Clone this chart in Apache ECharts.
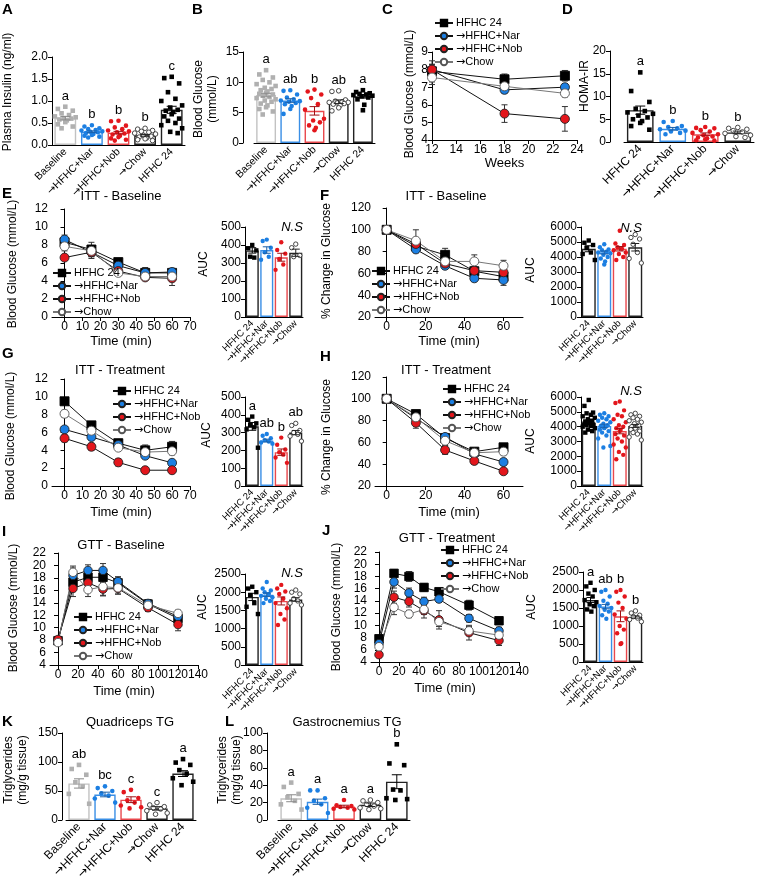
<!DOCTYPE html>
<html>
<head>
<meta charset="utf-8">
<script src="https://cdn.jsdelivr.net/npm/echarts@6/dist/echarts.min.js"></script>
<style>
  html, body { margin: 0; padding: 0; background: #fff; }
  #main { width: 766px; height: 876px; }
</style>
</head>
<body>
<div id="main"></div>
<script>
// ---------- data ----------
var names = ['HFHC 24', '→HFHC+Nar', '→HFHC+Nob', '→Chow'];
var cats5 = ['Baseline', '→HFHC+Nar', '→HFHC+Nob', '→Chow', 'HFHC 24'];
var cats4 = ['HFHC 24', '→HFHC+Nar', '→HFHC+Nob', '→Chow'];

// A plasma insulin
var aMeans = [0.61, 0.30, 0.28, 0.22, 0.80];
var aSems = [0.04, 0.02, 0.03, 0.02, 0.08];
var aLetters = ['a', 'b', 'b', 'b', 'c'];
var aDots = [
  [0.87, 0.82, 0.78, 0.72, 0.68, 0.65, 0.63, 0.61, 0.6, 0.58, 0.56, 0.52, 0.47, 0.42, 0.38],
  [0.45, 0.42, 0.38, 0.36, 0.34, 0.33, 0.31, 0.3, 0.29, 0.27, 0.25, 0.23, 0.21, 0.19, 0.17],
  [0.55, 0.54, 0.44, 0.4, 0.36, 0.33, 0.31, 0.29, 0.26, 0.24, 0.21, 0.18, 0.15, 0.12, 0.1],
  [0.38, 0.36, 0.33, 0.31, 0.29, 0.27, 0.25, 0.22, 0.2, 0.18, 0.16, 0.14, 0.12, 0.1],
  [1.55, 1.52, 1.4, 1.2, 1.05, 1.0, 0.9, 0.85, 0.8, 0.78, 0.75, 0.7, 0.65, 0.6, 0.55, 0.5, 0.45, 0.38, 0.3, 0.27]
];

// B blood glucose
var bMeans = [7.9, 7.0, 5.3, 6.8, 7.7];
var bSems = [0.3, 0.3, 0.7, 0.3, 0.3];
var bLetters = ['a', 'ab', 'b', 'ab', 'a'];
var bDots = [
  [12.0, 11.3, 10.8, 10.4, 10.0, 9.7, 9.4, 9.1, 8.9, 8.7, 8.5, 8.3, 8.1, 8.0, 7.8, 7.6, 7.4, 7.2, 7.0, 6.8, 6.5, 6.2, 5.9, 5.6, 5.2, 4.7],
  [8.7, 8.6, 8.0, 7.5, 7.2, 7.0, 6.9, 6.8, 6.6, 6.4, 6.1, 5.6, 4.8],
  [8.8, 8.5, 8.0, 7.4, 6.4, 5.5, 4.0, 3.7, 3.4, 2.9, 2.5, 2.1],
  [8.6, 8.5, 7.1, 6.9, 6.8, 6.7, 6.7, 6.6, 6.5, 6.4, 6.2, 5.8, 5.3],
  [8.7, 8.4, 8.2, 8.1, 8.0, 7.9, 7.8, 7.7, 7.5, 7.2, 6.3, 5.4]
];

// C blood glucose over weeks
var cWeeks = [12, 18, 23];
var cMeans = [[7.9, 7.45, 7.65], [8.0, 6.85, 7.0], [8.0, 5.5, 5.2], [7.55, 7.05, 6.65]];
var cSems = [[0.6, 0.3, 0.3], [0.3, 0.2, 0.2], [0.3, 0.5, 0.7], [0.4, 0.2, 0.2]];

// D HOMA-IR
var dMeans = [7.0, 2.9, 1.7, 2.1];
var dSems = [0.9, 0.3, 0.3, 0.3];
var dLetters = ['a', 'b', 'b', 'b'];
var dDots = [
  [15.3, 11.2, 8.8, 7.3, 6.8, 6.5, 6.2, 5.8, 5.4, 5.0, 4.6, 4.2, 3.5, 2.7],
  [4.6, 4.4, 3.5, 3.3, 3.0, 2.8, 2.5, 2.3, 2.0, 1.7],
  [3.3, 3.1, 3.0, 2.6, 2.3, 2.0, 1.7, 1.5, 1.2, 1.0, 0.8, 0.6, 0.4, 0.3],
  [3.2, 3.0, 2.8, 2.5, 2.2, 1.9, 1.5, 1.2, 1.0]
];

// ITT / GTT time courses
var ittTimes = [0, 15, 30, 45, 60];
var gttTimes = [0, 15, 30, 45, 60, 90, 120];

var eMeans = [[8.3, 7.5, 6.1, 4.9, 4.9], [8.6, 7.2, 5.7, 4.9, 5.0], [6.6, 7.2, 5.1, 4.4, 4.3], [7.85, 7.35, 4.9, 4.5, 4.5]];
var eSems = [[0.4, 0.8, 0.3, 0.6, 0.5], [0.5, 0.5, 0.3, 0.4, 0.4], [0.3, 0.7, 0.4, 0.3, 0.8], [0.5, 0.6, 0.3, 0.3, 0.5]];
var eAuc = [370, 372, 332, 357];
var eAucSem = [15, 18, 22, 20];
var eAucDots = [[400, 382, 370, 335, 330], [430, 422, 385, 360, 335, 318], [415, 372, 352, 322, 292, 262], [405, 385, 342, 335]];

var fMeans = [[100, 85, 77, 62, 57], [100, 82, 67, 55.5, 54], [100, 87, 69, 62.5, 61], [100, 90, 71, 71, 67]];
var fSems = [[0, 5, 6, 4, 4], [0, 3, 3, 3, 5], [0, 3, 3, 3, 3], [0, 10, 4, 6, 5]];
var fAuc = [4550, 4300, 4550, 4650];
var fAucSem = [200, 100, 150, 250];
var fAucDots = [
  [5100, 4950, 4800, 4600, 4300, 4200, 3800],
  [4850, 4650, 4500, 4450, 4350, 4300, 4250, 4150, 4000, 3900, 3700, 3500],
  [5750, 4900, 4800, 4650, 4550, 4450, 4300, 4200, 4000, 3800],
  [5500, 5300, 5200, 4850, 4300, 3900, 3600]
];

var gMeans = [[9.5, 6.8, 4.8, 4.0, 4.4], [6.35, 5.5, 4.6, 3.4, 2.6], [5.35, 4.4, 2.65, 1.77, 1.77], [8.1, 6.2, 4.3, 3.8, 3.9]];
var gSems = [[0.3, 0.3, 0.4, 0.6, 0.6], [0.3, 0.3, 0.3, 0.3, 0.3], [0.4, 0.4, 0.4, 0.2, 0.2], [0.4, 0.4, 0.3, 0.4, 0.4]];
var gAuc = [335, 255, 190, 300];
var gAucSem = [22, 8, 18, 12];
var gLetters = ['a', 'ab', 'b', 'ab'];
var gAucDots = [[390, 372, 352, 342, 330, 318, 215], [292, 282, 268, 258, 250, 244, 238], [272, 232, 205, 190, 176, 160, 130], [352, 340, 312, 300, 290, 280, 252]];

var hMeans = [[100, 86, 64, 51.5, 55.5], [100, 82, 65, 49.5, 42], [100, 78, 53, 43, 33.5], [100, 83, 61.5, 50.5, 51.5]];
var hSems = [[0, 3, 3, 2, 3], [0, 3, 3, 3, 3], [0, 5, 4, 3, 2], [0, 3, 4, 3, 3]];
var hAuc = [4250, 4050, 3700, 4050];
var hAucSem = [120, 120, 180, 100];
var hAucDots = [
  [5800, 5400, 4950, 4900, 4800, 4700, 4600, 4500, 4400, 4350, 4300, 4250, 4200, 4150, 4100, 4050, 4000, 3900, 3800, 3700, 3600],
  [4900, 4800, 4700, 4600, 4500, 4400, 4300, 4200, 4100, 4050, 4000, 3900, 3800, 3700, 3600, 3400, 3200, 2700, 2600],
  [5700, 5600, 5100, 4800, 4700, 4500, 4300, 4100, 4000, 3900, 3800, 3700, 3500, 3400, 3200, 3000, 2800, 2600, 2300, 2100, 1800],
  [4900, 4800, 4700, 4600, 4500, 4400, 4300, 4200, 4100, 4000, 3950, 3900, 3800, 3700, 3600, 3500, 3300, 3100]
];

var iMeans = [[7.9, 17.3, 18.1, 18.1, 17.2, 13.8, 11.5], [7.8, 18.4, 19.2, 19.2, 17.4, 13.9, 11.8], [8.1, 16.3, 17.2, 16.2, 16.3, 13.2, 10.5], [7.6, 18.9, 16.1, 16.6, 16.4, 13.6, 12.3]];
var iSems = [[0.3, 1.0, 0.8, 0.9, 0.8, 0.6, 0.5], [0.3, 1.2, 0.9, 1.1, 0.8, 0.6, 0.5], [0.4, 1.3, 1.3, 1.0, 0.9, 0.6, 1.0], [0.3, 1.0, 1.1, 1.5, 1.0, 0.7, 0.5]];
var iAuc = [1870, 1930, 1760, 1800];
var iAucSem = [100, 50, 110, 50];
var iAucDots = [
  [2150, 2100, 2000, 1920, 1700, 1600, 1400],
  [2280, 2100, 2050, 2000, 1950, 1900, 1860, 1820, 1760, 1700],
  [2200, 2100, 2020, 1950, 1820, 1700, 1560, 1400, 1250, 1100],
  [2060, 2000, 1950, 1820, 1760, 1700, 1650]
];

var jMeans = [[7.8, 18.5, 18.0, 16.2, 15.5, 13.3, 10.75], [7.0, 17.1, 15.3, 13.9, 14.3, 11.15, 9.1], [5.2, 14.6, 13.9, 12.4, 10.9, 8.8, 7.5], [6.5, 12.95, 11.85, 12.6, 10.6, 9.1, 8.4]];
var jSems = [[0.5, 0.6, 0.8, 0.6, 0.5, 0.8, 0.5], [0.4, 1.0, 0.8, 0.7, 0.5, 0.6, 0.6], [0.4, 1.0, 0.9, 1.2, 1.5, 1.2, 0.8], [0.4, 1.2, 0.6, 0.8, 0.8, 0.7, 0.6]];
var jAuc = [1720, 1540, 1270, 1250];
var jAucSem = [70, 60, 150, 30];
var jLetters = ['a', 'ab', 'b', 'b'];
var jAucDots = [
  [2200, 2100, 2000, 1900, 1820, 1720, 1660, 1600, 1550, 1460, 1400],
  [2000, 1950, 1820, 1700, 1620, 1560, 1500, 1450, 1400, 1300, 1200],
  [2000, 1950, 1820, 1650, 1500, 1320, 1200, 1000, 900, 800, 520, 500],
  [1420, 1360, 1300, 1260, 1220, 1180, 1120]
];

// K quadriceps TG
var kMeans = [63, 44, 35, 20, 80];
var kSems = [8, 4, 5, 3, 5];
var kLetters = ['ab', 'bc', 'c', 'c', 'a'];
var kDots = [[95, 88, 78, 65, 58, 45, 28], [58, 55, 50, 46, 42, 37, 30], [52, 48, 38, 34, 30, 25, 22, 20], [30, 26, 23, 21, 19, 16, 12, 10], [105, 99, 95, 86, 80, 72, 66, 60]];

// L gastrocnemius TG
var lMeans = [25, 21, 15.5, 17.5, 44];
var lSems = [4, 3, 1.5, 2, 8];
var lLetters = ['a', 'a', 'a', 'a', 'b'];
var lDots = [[43, 38, 30, 26, 22, 18, 12], [34, 34, 25, 22, 18, 14, 8], [23, 17, 16, 15, 14, 13, 12], [23, 22, 20, 18, 16, 14, 13, 12], [87, 65, 63, 35, 34, 25, 24, 23]];

// ---------- styles ----------
var FONT = '"Liberation Sans", Arial, "DejaVu Sans", sans-serif';
var STY = {
  base: { dot: '#b0b0b0', bar: '#c2c2c2', err: '#8a8a8a', shape: 'square' },
  nar:  { dot: '#1c7fe2', bar: '#3a8fe6', err: '#1a5fa8', shape: 'circle' },
  nob:  { dot: '#e3161c', bar: '#e9484d', err: '#a01014', shape: 'circle' },
  chow: { dot: '#ffffff', bar: '#222222', err: '#222222', shape: 'hollow' },
  hfhc: { dot: '#000000', bar: '#222222', err: '#000000', shape: 'square' }
};
var g5 = ['base', 'nar', 'nob', 'chow', 'hfhc'];
var g4 = ['hfhc', 'nar', 'nob', 'chow'];
var LSTY = [
  { symbol: 'rect', fill: '#000', stroke: '#000', line: '#111' },
  { symbol: 'circle', fill: '#1c7fe2', stroke: '#222', line: '#111' },
  { symbol: 'circle', fill: '#e3161c', stroke: '#222', line: '#111' },
  { symbol: 'circle', fill: '#fff', stroke: '#555', line: '#777' }
];
var JIT = [0, -1, 1, -0.5, 0.5, -1.4, 1.4, -0.2, 0.8, -0.8, 0.2];

// arrow glyph drawn with DejaVu so it reads like the original
function arrowFmt(s) { return s.replace('→', '{ar|→}'); }
function arrowRich(size) { return { ar: { fontFamily: '"DejaVu Sans"', fontSize: size, color: '#000' } }; }

var grid = [], xAxis = [], yAxis = [], series = [], legend = [], graphic = [];

function txt(t, x, y, o) {
  graphic.push({ type: 'text', x: x, y: y, silent: true, style: Object.assign({
    text: t, fill: '#000', fontSize: 13, fontFamily: FONT,
    align: 'left', verticalAlign: 'top', textAlign: 'left', textVerticalAlign: 'top'
  }, o || {}) });
}
function ctr(t, x, y, o) {
  txt(t, x, y, Object.assign({ align: 'center', textAlign: 'center' }, o || {}));
}
// rotated y-axis title, centred at (x, y)
function yTitle(t, pos) {
  graphic.push({ type: 'text', x: pos[0], y: pos[1], rotation: Math.PI / 2, silent: true, style: {
    text: t, fill: '#000', fontSize: 12, fontFamily: FONT, lineHeight: 14,
    align: 'center', verticalAlign: 'middle', textAlign: 'center', textVerticalAlign: 'middle'
  } });
}

function axisY(g, o) {
  yTitle(o.yName, o.yPos);
  return {
    gridIndex: g, type: 'value', min: o.ymin || 0, max: o.ymax, interval: o.step, offset: o.off || 0,
    axisLine: { show: true, lineStyle: { color: '#000', width: 1 } },
    axisTick: { show: true, length: 4, lineStyle: { color: '#000' } },
    axisLabel: { fontSize: 12, color: '#000', margin: 4, fontFamily: FONT, showMinLabel: true, showMaxLabel: true,
      formatter: function (v) { return o.dec ? v.toFixed(o.dec) : String(v); } },
    splitLine: { show: false }
  };
}

function errShape(api, cap, color) {
  var x = api.value(0), m = api.value(1), s = api.value(2);
  var lo = api.coord([x, m - s]), hi = api.coord([x, m + s]);
  var st = { stroke: color, lineWidth: 1 };
  return { type: 'group', children: [
    { type: 'line', shape: { x1: lo[0], y1: lo[1], x2: hi[0], y2: hi[1] }, style: st },
    { type: 'line', shape: { x1: lo[0] - cap, y1: lo[1], x2: lo[0] + cap, y2: lo[1] }, style: st },
    { type: 'line', shape: { x1: hi[0] - cap, y1: hi[1], x2: hi[0] + cap, y2: hi[1] }, style: st }
  ] };
}

function dotShape(st, x, y, r) {
  if (st.shape === 'square') {
    return { type: 'rect', shape: { x: x - r, y: y - r, width: 2 * r, height: 2 * r }, style: { fill: st.dot } };
  }
  if (st.shape === 'hollow') {
    return { type: 'circle', shape: { cx: x, cy: y, r: r }, style: { fill: '#fff', stroke: '#333', lineWidth: 0.9 } };
  }
  return { type: 'circle', shape: { cx: x, cy: y, r: r }, style: { fill: st.dot } };
}

function barPanel(o) {
  var g = grid.length;
  grid.push({ left: o.box[0], top: o.box[1], width: o.box[2], height: o.box[3], outerBoundsMode: 'none' });
  xAxis.push({
    gridIndex: g, type: 'category', data: o.cats, axisTick: { show: false },
    axisLine: { lineStyle: { color: '#000', width: 1 } },
    axisLabel: { interval: 0, rotate: 45, fontSize: o.catFont, color: '#000', margin: 5, fontFamily: FONT,
      formatter: arrowFmt, rich: arrowRich(o.catFont) }
  });
  yAxis.push(axisY(g, o));
  var ax = { xAxisIndex: g, yAxisIndex: g, silent: true };
  series.push(Object.assign({
    type: 'bar', z: 2, barCategoryGap: o.catGap || '18%',
    data: o.means.map(function (m, i) {
      return { value: m, itemStyle: { color: '#fff', borderColor: STY[o.groups[i]].bar, borderWidth: 1.4 } };
    })
  }, ax));
  var dotData = [];
  o.dots.forEach(function (arr, i) { arr.forEach(function (v, j) { dotData.push([i, v, j]); }); });
  series.push(Object.assign({
    type: 'custom', z: 3, data: dotData,
    renderItem: function (p, api) {
      var i = api.value(0), j = api.value(2);
      var c = api.coord([i, api.value(1)]);
      var bw = api.size([1, 0])[0];
      var dx = JIT[j % JIT.length] * bw * 0.28;
      return dotShape(STY[o.groups[i]], c[0] + dx, c[1], o.ds);
    }
  }, ax));
  series.push(Object.assign({
    type: 'custom', z: 4,
    data: o.means.map(function (m, i) { return [i, m, o.sems[i]]; }),
    renderItem: function (p, api) { return errShape(api, o.cap || 4, STY[o.groups[p.dataIndex]].err); }
  }, ax));
  if (o.letters) {
    series.push(Object.assign({
      type: 'custom', z: 5,
      data: o.means.map(function (m, i) { return [i, Math.max(m + o.sems[i], Math.max.apply(null, o.dots[i]))]; }),
      renderItem: function (p, api) {
        var c = api.coord([api.value(0), api.value(1)]);
        return { type: 'text', style: { text: o.letters[p.dataIndex], x: c[0], y: c[1] - 4,
          align: 'center', verticalAlign: 'bottom', textAlign: 'center', textVerticalAlign: 'bottom',
          fontSize: 13, fontFamily: FONT, fill: '#000' } };
      }
    }, ax));
  }
}

function linePanel(o) {
  var g = grid.length;
  grid.push({ left: o.box[0], top: o.box[1], width: o.box[2], height: o.box[3], outerBoundsMode: 'none' });
  xAxis.push({
    gridIndex: g, type: 'value', min: o.xmin, max: o.xmax,
    name: o.xName, nameLocation: 'middle', nameGap: o.xGap, nameMoveOverlap: false,
    nameTextStyle: { fontSize: 13, color: '#000', fontFamily: FONT },
    axisLine: { onZero: false, lineStyle: { color: '#000', width: 1 } },
    axisTick: { show: true, length: 4, customValues: o.xt, lineStyle: { color: '#000' } },
    axisLabel: { customValues: o.xt, fontSize: 12, color: '#000', margin: 4, fontFamily: FONT },
    splitLine: { show: false }
  });
  yAxis.push(axisY(g, o));
  o.means.forEach(function (arr, k) {
    var s = LSTY[k];
    series.push({
      type: 'line', name: names[k], xAxisIndex: g, yAxisIndex: g, z: 3, silent: true,
      data: o.x.map(function (x, i) { return [x, arr[i]]; }),
      symbol: s.symbol, symbolSize: o.ss,
      itemStyle: { color: s.fill, borderColor: s.stroke, borderWidth: 0.9 },
      lineStyle: { color: s.line, width: 1 }
    });
    series.push({
      type: 'custom', xAxisIndex: g, yAxisIndex: g, z: 2, silent: true,
      data: o.x.map(function (x, i) { return [x, arr[i], o.sems[k][i]]; }),
      renderItem: function (p, api) { return errShape(api, 3, '#333'); }
    });
  });
  legend.push({
    left: o.leg[0], top: o.leg[1], orient: 'vertical', itemGap: 1, itemWidth: 18, itemHeight: 8, z: 20,
    padding: 0, selectedMode: false, data: names, formatter: arrowFmt,
    textStyle: { fontSize: 11, color: '#000', fontFamily: FONT, lineHeight: 12, padding: [0, 0, 0, -2], rich: arrowRich(11) }
  });
}

// ---------- panels ----------
barPanel({ box: [52, 57, 133, 88], cats: cats5, groups: g5, means: aMeans, sems: aSems, dots: aDots, letters: aLetters,
  ymax: 2.0, step: 0.5, dec: 1, yName: 'Plasma Insulin (ng/ml)', yPos: [8, 92], catFont: 10.5, ds: 2.3, cap: 5 });
barPanel({ box: [254, 52, 121, 91], off: 11, cats: cats5, groups: g5, means: bMeans, sems: bSems, dots: bDots, letters: bLetters,
  ymax: 15, step: 5, yName: 'Blood Glucose\n(mmol/L)', yPos: [206, 99], catFont: 10.5, ds: 2.3, cap: 5 });
linePanel({ box: [432, 52, 145, 88], x: cWeeks, means: cMeans, sems: cSems, xmin: 12, xmax: 24,
  xt: [12, 14, 16, 18, 20, 22, 24], ymin: 4, ymax: 9, step: 1, yName: 'Blood Glucose (mmol/L)', yPos: [410, 94],
  xName: 'Weeks', xGap: 17, ss: 9, leg: [434, 17] });
barPanel({ box: [624, 51, 130, 91], off: 14, cats: cats4, groups: g4, means: dMeans, sems: dSems, dots: dDots, letters: dLetters,
  ymax: 20, step: 5, yName: 'HOMA-IR', yPos: [585, 86], catFont: 12, ds: 2.3, cap: 5 });

linePanel({ box: [52, 209, 138, 108], x: ittTimes, means: eMeans, sems: eSems, xmin: -7, xmax: 70,
  xt: [0, 10, 20, 30, 40, 50, 60, 70], ymin: 0, ymax: 12, step: 2, yName: 'Blood Glucose (mmol/L)', yPos: [13, 264],
  xName: 'Time (min)', xGap: 18, ss: 9, leg: [52, 267] });
barPanel({ box: [245, 227, 58, 90], cats: cats4, groups: g4, means: eAuc, sems: eAucSem, dots: eAucDots,
  ymax: 500, step: 100, yName: 'AUC', yPos: [204, 264], catFont: 9.5, ds: 2.2, cap: 4, catGap: '10%' });
linePanel({ box: [375, 208, 148, 109], x: ittTimes, means: fMeans, sems: fSems, xmin: -6, xmax: 70,
  xt: [0, 20, 40, 60], ymin: 20, ymax: 120, step: 20, yName: '% Change in Glucose', yPos: [327, 261],
  xName: 'Time (min)', xGap: 18, ss: 9, leg: [371, 265] });
barPanel({ box: [581, 227, 62, 90], cats: cats4, groups: g4, means: fAuc, sems: fAucSem, dots: fAucDots,
  ymax: 6000, step: 1000, yName: 'AUC', yPos: [531, 270], catFont: 9.5, ds: 2.2, cap: 4, catGap: '10%' });

linePanel({ box: [52, 379, 138, 107], x: ittTimes, means: gMeans, sems: gSems, xmin: -7, xmax: 70,
  xt: [0, 10, 20, 30, 40, 50, 60, 70], ymin: 0, ymax: 12, step: 2, yName: 'Blood Glucose (mmol/L)', yPos: [11, 436],
  xName: 'Time (min)', xGap: 20, ss: 9, leg: [112, 385] });
barPanel({ box: [245, 397, 58, 89], cats: cats4, groups: g4, means: gAuc, sems: gAucSem, dots: gAucDots, letters: gLetters,
  ymax: 500, step: 100, yName: 'AUC', yPos: [207, 435], catFont: 9.5, ds: 2.2, cap: 4, catGap: '10%' });
linePanel({ box: [375, 377, 148, 109], x: ittTimes, means: hMeans, sems: hSems, xmin: -6, xmax: 70,
  xt: [0, 20, 40, 60], ymin: 20, ymax: 120, step: 20, yName: '% Change in Glucose', yPos: [327, 437],
  xName: 'Time (min)', xGap: 20, ss: 9, leg: [442, 383] });
barPanel({ box: [581, 397, 62, 89], cats: cats4, groups: g4, means: hAuc, sems: hAucSem, dots: hAucDots,
  ymax: 6000, step: 1000, yName: 'AUC', yPos: [531, 441], catFont: 9.5, ds: 2.2, cap: 4, catGap: '10%' });

linePanel({ box: [50, 553, 148, 112], x: gttTimes, means: iMeans, sems: iSems, xmin: -8, xmax: 140,
  xt: [0, 20, 40, 60, 80, 100, 120, 140], ymin: 4, ymax: 22, step: 2, yName: 'Blood Glucose (mmol/L)', yPos: [14, 608],
  xName: 'Time (min)', xGap: 20, ss: 8.5, leg: [73, 611] });
barPanel({ box: [245, 574, 58, 91], cats: cats4, groups: g4, means: iAuc, sems: iAucSem, dots: iAucDots,
  ymax: 2500, step: 500, yName: 'AUC', yPos: [203, 607], catFont: 9.5, ds: 2.2, cap: 4, catGap: '10%' });
linePanel({ box: [371, 552, 148, 110], x: gttTimes, means: jMeans, sems: jSems, xmin: -8, xmax: 140,
  xt: [0, 20, 40, 60, 80, 100, 120, 140], ymin: 4, ymax: 22, step: 2, yName: 'Blood Glucose (mmol/L)', yPos: [337, 607],
  xName: 'Time (min)', xGap: 20, ss: 8.5, leg: [440, 544] });
barPanel({ box: [583, 572, 60, 90], cats: cats4, groups: g4, means: jAuc, sems: jAucSem, dots: jAucDots, letters: jLetters,
  ymax: 2500, step: 500, yName: 'AUC', yPos: [532, 607], catFont: 9.5, ds: 2.2, cap: 4, catGap: '10%' });

barPanel({ box: [66, 733, 130, 87], off: 4, cats: cats5, groups: g5, means: kMeans, sems: kSems, dots: kDots, letters: kLetters,
  ymax: 150, step: 50, yName: 'Triglycerides\n(mg/g tissue)', yPos: [16, 770], catFont: 12, ds: 2.3, cap: 5 });
barPanel({ box: [278, 733, 132, 87], off: 11, cats: cats5, groups: g5, means: lMeans, sems: lSems, dots: lDots, letters: lLetters,
  ymax: 100, step: 20, yName: 'Triglycerides\n(mg/g tissue)', yPos: [230, 770], catFont: 12, ds: 2.3, cap: 5 });

// ---------- free text ----------
var bold = { fontSize: 15, fontWeight: 'bold' };
txt('A', 2, 2, bold); txt('B', 192, 2, bold); txt('C', 382, 2, bold); txt('D', 562, 2, bold);
txt('E', 2, 186, bold); txt('F', 320, 188, bold);
txt('G', 2, 346, bold); txt('H', 320, 349, bold);
txt('I', 2, 524, bold); txt('J', 322, 523, bold);
txt('K', 2, 714, bold); txt('L', 225, 714, bold);
ctr('ITT - Baseline', 121, 190); ctr('ITT - Baseline', 446, 190);
ctr('ITT - Treatment', 120, 364); ctr('ITT - Treatment', 446, 364);
ctr('GTT - Baseline', 121, 539); ctr('GTT - Treatment', 447, 532);
ctr('Quadriceps TG', 130, 716); ctr('Gastrocnemius TG', 347, 716);
var it = { fontStyle: 'italic' };
ctr('N.S', 292, 221, it); ctr('N.S', 631, 222, it); ctr('N.S', 631, 385, it); ctr('N.S', 292, 567, it);

var chart = echarts.init(document.getElementById('main'), null, { renderer: 'canvas' });
chart.setOption({
  animation: false,
  backgroundColor: '#fff',
  textStyle: { fontFamily: FONT },
  grid: grid, xAxis: xAxis, yAxis: yAxis, series: series, legend: legend, graphic: graphic
});
</script>
</body>
</html>
